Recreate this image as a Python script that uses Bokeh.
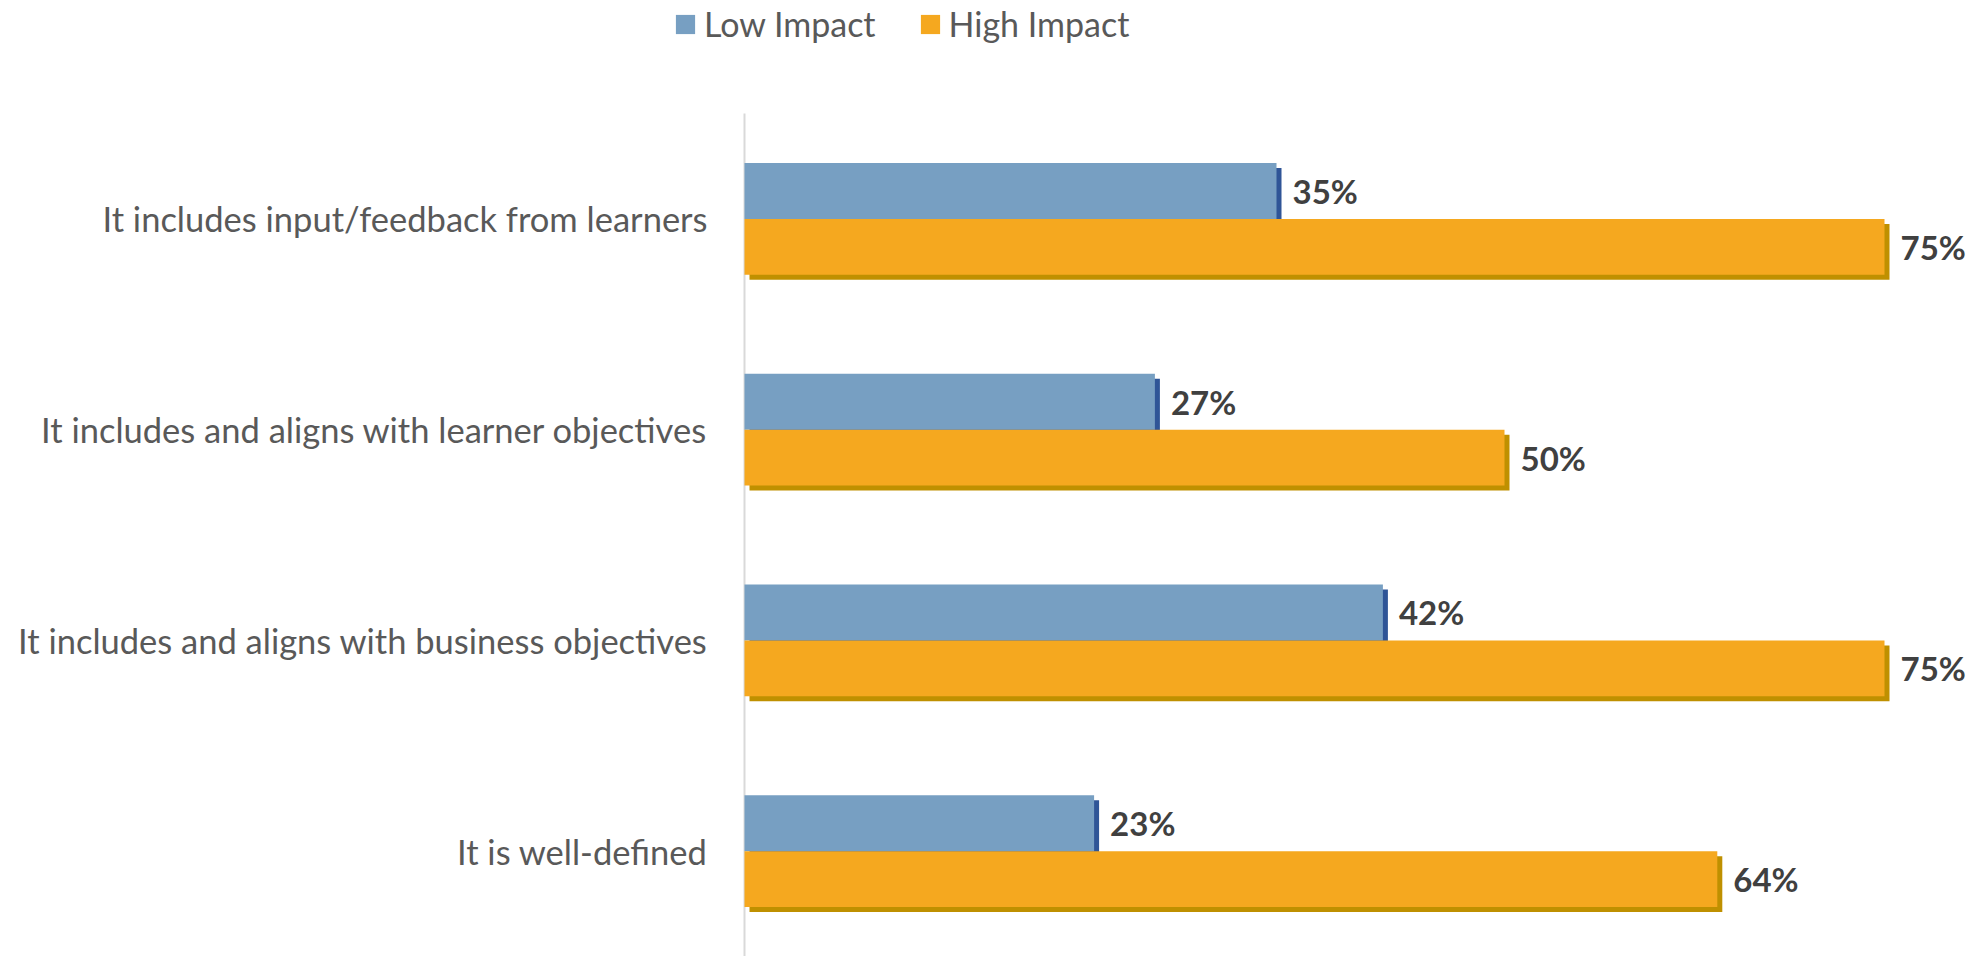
from bokeh.plotting import figure
from bokeh.models import ColumnDataSource, Legend, LegendItem, Range1d
from bokeh.core.properties import value
from bokeh.embed import file_html
from bokeh.resources import INLINE

categories = [
    "It includes input/feedback from learners",
    "It includes and aligns with learner objectives",
    "It includes and aligns with business objectives",
    "It is well-defined",
]
low_impact = [35, 27, 42, 23]
high_impact = [75, 50, 75, 64]
series_names = ["Low Impact", "High Impact"]

W, H = 1986, 956
LEFT, TOP = 744, 113          # where the value axis / category area begin (px)
PX_PER_PCT = 15.2
n = len(categories)
band_px = (H - TOP) / n

x_start = -LEFT / PX_PER_PCT
x_end = (W - LEFT) / PX_PER_PCT
y_start = -0.5
y_end = n - 0.5 + TOP / band_px

px_x = 1 / PX_PER_PCT
px_y = 1 / band_px

ypos = [n - 1 - i for i in range(n)]
BAR_H = 0.265
low_y = [y + BAR_H / 2 for y in ypos]
high_y = [y - BAR_H / 2 for y in ypos]
SH = 5  # shadow offset in px

src = ColumnDataSource(dict(
    low=low_impact, high=high_impact, low_y=low_y, high_y=high_y,
    low_sh_y=[y - SH * px_y for y in low_y],
    high_sh_y=[y - SH * px_y for y in high_y],
    sh_l=[SH * px_x] * n,
    low_sh_r=[v + SH * px_x for v in low_impact],
    high_sh_r=[v + SH * px_x for v in high_impact],
    low_lbl=[f"{v}%" for v in low_impact],
    high_lbl=[f"{v}%" for v in high_impact],
))
cat_src = ColumnDataSource(dict(y=ypos, x=[0] * n, cat=categories))

p = figure(width=W, height=H, output_backend="svg", toolbar_location=None,
           x_range=Range1d(x_start, x_end), y_range=Range1d(y_start, y_end),
           min_border=0)
p.outline_line_color = None
p.xgrid.visible = False
p.ygrid.visible = False
p.xaxis.visible = False
p.yaxis.visible = False

BLUE = "#779FC2"
BLUE_SH = "#2F5597"
ORANGE = "#F5A81F"
ORANGE_SH = "#BF9000"

# value axis line
p.segment(x0=[0], y0=[y_start], x1=[0], y1=[n - 0.5], line_color="#D9D9D9", line_width=2)

p.hbar(y="low_sh_y", left="sh_l", right="low_sh_r", height=BAR_H, source=src,
       fill_color=BLUE_SH, line_color=None)
r_low = p.hbar(y="low_y", left=0, right="low", height=BAR_H, source=src,
               fill_color=BLUE, line_color=None)
p.hbar(y="high_sh_y", left="sh_l", right="high_sh_r", height=BAR_H, source=src,
       fill_color=ORANGE_SH, line_color=None)
r_high = p.hbar(y="high_y", left=0, right="high", height=BAR_H, source=src,
                fill_color=ORANGE, line_color=None)

font = value("Lato")
p.text(x="low", y="low_y", text="low_lbl", source=src, x_offset=16,
       text_align="left", text_baseline="middle", text_font=font,
       text_font_size="33px", text_font_style="bold", text_color="#404040")
p.text(x="high", y="high_y", text="high_lbl", source=src, x_offset=16,
       text_align="left", text_baseline="middle", text_font=font,
       text_font_size="33px", text_font_style="bold", text_color="#404040")

# category labels
p.text(x="x", y="y", text="cat", source=cat_src, x_offset=-37,
       text_align="right", text_baseline="middle", text_font=font,
       text_font_size="34.5px", text_color="#595959")

legend = Legend(items=[LegendItem(label=series_names[0], renderers=[r_low]),
                       LegendItem(label=series_names[1], renderers=[r_high])],
                location=(673, 912), orientation="horizontal",
                glyph_width=24, glyph_height=24, label_standoff=7, spacing=42,
                padding=0, margin=0, border_line_alpha=0, background_fill_alpha=0,
                label_text_font="Lato", label_text_font_size="34px",
                label_text_color="#595959")
p.add_layout(legend, "center")

open("out.html", "w").write(file_html(p, INLINE))
